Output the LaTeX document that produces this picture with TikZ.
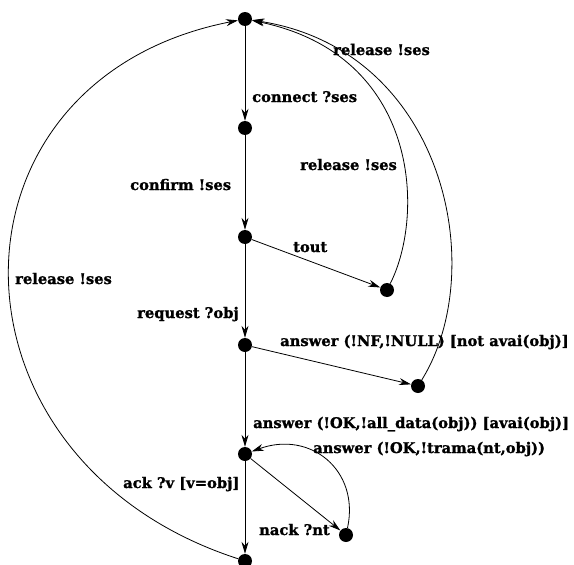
\documentclass[tikz,border=0pt]{standalone}
\usepackage{fontspec}
\setmainfont{DejaVu Serif}[BoldFeatures={FakeBold=1.2}]
\usetikzlibrary{arrows.meta}
\tikzset{
  state/.style={circle, fill=black, inner sep=0pt, minimum size=14pt},
  trans/.style={draw, line width=0.8pt, -{Stealth[length=12pt, width=7pt]}},
  lbl/.style={anchor=base west, inner sep=0pt, font=\bfseries\fontsize{14.7}{16}\selectfont}
}
\begin{document}
\begin{tikzpicture}[x=1pt, y=-1pt]
  \useasboundingbox (0,0) rectangle (574,565);

  % states
  \node[state] (s0) at (245,19) {};
  \node[state] (s1) at (245,128) {};
  \node[state] (s2) at (245,237) {};
  \node[state] (s3) at (245,345) {};
  \node[state] (s4) at (245,454) {};
  \node[state] (s5) at (245,561) {};
  \node[state] (t1) at (387,290) {};
  \node[state] (t2) at (418,386) {};
  \node[state] (k1) at (346,535) {};

  % main sequence
  \draw[trans] (s0) -- (s1);
  \draw[trans] (s1) -- (s2);
  \draw[trans] (s2) -- (s3);
  \draw[trans] (s3) -- (s4);
  \draw[trans] (s4) -- (s5);

  % side branches
  \draw[trans] (s2) -- (t1);
  \draw[trans] (s3) -- (t2);
  \draw[trans] (s4) -- (k1);

  % returns
  \draw[trans] (t1) .. controls (425,215) and (420,55) .. (s0);
  \draw[trans] (t2) .. controls (490,270) and (445,50) .. (s0);
  \draw[trans] (k1) .. controls (360,470) and (310,430) .. (s4);
  \draw[trans] (s5) .. controls (-67,460) and (-67,80) .. (s0);

  % labels
  \node[lbl] (l1) at (333,55) {release !ses};
  \node[lbl] (l2) at (252,102) {connect ?ses};
  \node[lbl] (l3) at (300,170) {release !ses};
  \node[lbl] (l4) at (130,190) {confirm !ses};
  \node[lbl] (l5) at (293,252) {tout};
  \node[lbl] (l6) at (15,284) {release !ses};
  \node[lbl] (l7) at (137,318) {request ?obj};
  \node[lbl] (l8) at (280,346) {answer (!NF,!NULL) [not avai(obj)]};
  \node[lbl] (l9) at (253,428) {answer (!OK,!all\_data(obj)) [avai(obj)]};
  \node[lbl] (l10) at (313,453) {answer (!OK,!trama(nt,obj))};
  \node[lbl] (l11) at (123,488) {ack ?v [v=obj]};
  \node[lbl] (l12) at (259,535) {nack ?nt};
\end{tikzpicture}
\end{document}
